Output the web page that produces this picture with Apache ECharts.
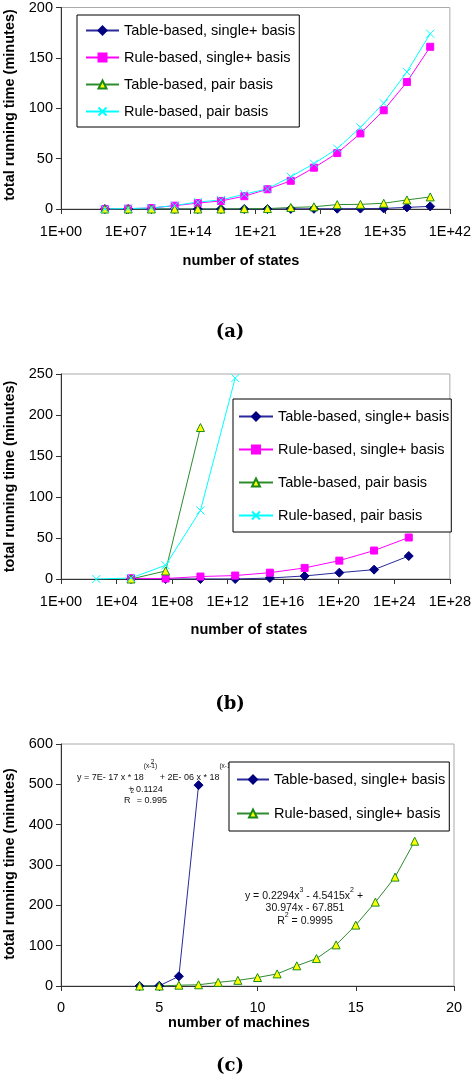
<!DOCTYPE html>
<html><head><meta charset="utf-8">
<script src="https://cdn.jsdelivr.net/npm/echarts@6/dist/echarts.min.js"></script>
<style>html,body{margin:0;padding:0;background:#fff}#c{width:474px;height:1080px}</style>
</head><body><div id="c"></div>
<script>
// ---------- data ----------
const seriesNames = ['Table-based, single+ basis', 'Rule-based, single+ basis', 'Table-based, pair basis', 'Rule-based, pair basis'];
// chart (a)
const statesA = [5.5e4, 1.8e7, 5.8e9, 1.9e12, 6.0e14, 1.9e17, 6.3e19, 2.0e22, 6.6e24, 2.1e27, 6.9e29, 2.2e32, 7.2e34, 2.3e37, 7.6e39];
const tableSingleA = [0, 0, 0, 0, 0, 0, 0, 0, 0.1, 0.2, 0.3, 0.4, 0.6, 1.6, 2.6];
const ruleSingleA = [0, 0.3, 1, 3.3, 5.9, 8, 12.7, 19.6, 28, 41, 55.5, 75, 98, 126, 161];
const tablePairA = [0, 0, 0, 0, 0, 0, 0.3, 0.4, 1.5, 2.2, 4.4, 4.6, 5.7, 9, 12];
const rulePairA = [0, 0.5, 1, 3.5, 6.9, 9, 14.7, 20, 32, 45, 60, 81, 105, 136, 174];
// chart (b)
const statesB = [3.5e2, 1.1e5, 3.4e7, 1.1e10, 3.5e12, 1.1e15, 3.5e17, 1.1e20, 3.5e22, 1.1e25];
const tableSingleB = [null, 0, 0, 0, 0, 1.2, 3.7, 7.7, 11.4, 28];
const ruleSingleB = [null, 0.8, 0.6, 3.0, 4.2, 7.7, 13.5, 22.4, 34.7, 50.6];
const tablePairB = [null, 0, 9.8, 184.7, null, null, null, null, null, null];
const rulePairB = [0, 1.2, 16.7, 83.6, 245, null, null, null, null, null];
// chart (c)
const machinesTable = [4, 5, 6, 7];
const tableSingleC = [0, 0.5, 24, 498];
const machinesRule = [4, 5, 6, 7, 8, 9, 10, 11, 12, 13, 14, 15, 16, 17, 18];
const ruleSingleC = [0, 0, 2, 3, 9, 14, 21, 30, 50, 68, 102, 151, 208, 270, 359];
// axis ticks
const yTicksA = [0, 200, 50];
const yTicksB = [0, 250, 50];
const yTicksC = [0, 600, 100];
const xTicksC = [0, 20, 5];
const logTicksA = [0, 42, 7];
const logTicksB = [0, 28, 4];

// ---------- helpers ----------
const FONT = "'Liberation Sans', Arial, Helvetica, sans-serif";
const FS = 14.5;
const mctx = document.createElement('canvas').getContext('2d');
function tw(t, size) { mctx.font = size + 'px ' + FONT; return mctx.measureText(t).width; }
function expLabel(v) { const e = Math.round(Math.log10(v)); return '1E+' + (e < 10 ? '0' : '') + e; }
function pairs(xs, ys) { return xs.map((x, i) => [x, ys[i]]).filter(p => p[1] !== null && p[1] !== undefined); }

const styles = {
  tableSingle: { symbol: 'diamond', symbolSize: 9, itemStyle: { color: '#000080', borderColor: '#000080', borderWidth: 1 }, lineStyle: { color: '#2a2a9a', width: 1 } },
  ruleSingle: { symbol: 'rect', symbolSize: 7, itemStyle: { color: '#FF00FF', borderColor: '#FF00FF', borderWidth: 1 }, lineStyle: { color: '#FF00FF', width: 1 } },
  tri: { symbol: 'triangle', symbolSize: 8, itemStyle: { color: '#FFFF00', borderColor: '#1a8a1a', borderWidth: 1 }, lineStyle: { color: '#2e8b2e', width: 1 } },
  cross: { symbol: 'path://M0,0L10,10M10,0L0,10', symbolSize: 8, itemStyle: { color: '#00FFFF', borderColor: '#00FFFF', borderWidth: 1 }, lineStyle: { color: '#00FFFF', width: 1 } }
};
function mk(name, tag, idx, data, st) {
  return Object.assign({ type: 'line', name: name + '|' + tag, xAxisIndex: idx, yAxisIndex: idx, data: data, showAllSymbol: true, z: 3 }, JSON.parse(JSON.stringify(st)));
}

function xLogAxis(idx, t) {
  return { gridIndex: idx, type: 'log', logBase: 10, min: Math.pow(10, t[0]), max: Math.pow(10, t[1]), interval: t[2],
    axisLine: { show: true, lineStyle: { color: '#333', width: 1 } },
    axisTick: { show: true, length: 5, lineStyle: { color: '#333' } },
    minorTick: { show: false }, splitLine: { show: false },
    axisLabel: { formatter: expLabel, fontSize: FS, fontFamily: FONT, color: '#000', margin: 15, showMinLabel: true, showMaxLabel: true } };
}
function valAxis(idx, t, margin, isX) {
  return { gridIndex: idx, type: 'value', min: t[0], max: t[1], interval: t[2],
    axisLine: { show: true, onZero: false, lineStyle: { color: '#333', width: 1 } },
    axisTick: { show: true, length: 5, lineStyle: { color: '#333' } },
    splitLine: { show: false },
    axisLabel: { fontSize: FS, fontFamily: FONT, color: '#000', margin: margin, showMinLabel: true, showMaxLabel: true } };
}
function legend(tag, names, left, top, pad, iw, gap) {
  return { orient: 'vertical', left: left, top: top, padding: pad, itemWidth: iw, itemHeight: 10, itemGap: gap,
    data: names.map(n => n + '|' + tag), formatter: n => n.split('|')[0], selectedMode: false,
    textStyle: { fontSize: FS, fontFamily: FONT, color: '#000', lineHeight: 14 },
    borderColor: '#000', borderWidth: 1, backgroundColor: '#fff', z: 10 };
}

// ---------- graphic texts ----------
const graphics = [];
function txt(t, x, y, o) {
  graphics.push(Object.assign({ type: 'text', x: x, y: y, z: 1,
    style: Object.assign({ text: t, font: (o && o.font) || ('bold ' + FS + 'px ' + FONT), fill: '#000', align: 'center', verticalAlign: 'middle' }, (o && o.style) || {}) },
    o && o.rotation ? { rotation: o.rotation } : {}));
}
function yTitle(cy) { txt('total running time (minutes)', 9.5, cy, { rotation: Math.PI / 2 }); }
yTitle(105); yTitle(476.5); yTitle(864);
txt('number of states', 241, 261);
txt('number of states', 249, 630);
txt('number of machines', 239, 1023);
const capFont = "bold 18px 'DejaVu Serif', serif";
txt('(a)', 230, 332, { font: capFont });
txt('(b)', 230, 704, { font: capFont });
txt('(c)', 230, 1066, { font: capFont });

// rich line: pieces [text, dy, size, advance(bool), dx]
function richLine(pieces, x0, cy, center) {
  let total = 0;
  pieces.forEach(p => { if (p[3] !== false) total += tw(p[0], p[2]) + (p[4] || 0); });
  let x = center ? x0 - total / 2 : x0;
  pieces.forEach(p => {
    const w = tw(p[0], p[2]);
    graphics.push({ type: 'text', x: x + (p[4] || 0), y: cy + p[1], z: 1,
      style: { text: p[0], font: p[2] + 'px ' + FONT, fill: '#111', align: 'left', verticalAlign: 'middle' } });
    if (p[3] !== false) x += w + (p[4] || 0);
  });
}
// trendline label for table-based series
const s1 = 9, s1s = 6.5;
richLine([['y = 7E- 17 x * 18', 0, s1], ['(x-1)', -11, s1s], ['2', -15.5, s1s, false, -6.5], [' + 2E- 06 x * 18', 0, s1], ['(x-1)', -11, s1s]], 77, 777.5, false);
richLine([['+ 0.1124', 0, s1]], 145.5, 790, true);
richLine([['R', 0, s1], ['2', -10, s1s], [' = 0.995', 0, s1]], 145.5, 801, true);
// trendline label for rule-based series
const s2 = 10.5, s2s = 7;
richLine([['y = 0.2294x', 0, s2], ['3', -6, s2s], [' - 4.5415x', 0, s2], ['2', -6, s2s], [' +', 0, s2]], 304, 896, true);
richLine([['30.974x - 67.851', 0, s2]], 305, 908, true);
richLine([['R', 0, s2], ['2', -5.5, s2s], [' = 0.9995', 0, s2]], 305, 921, true);

// ---------- chart ----------
const chart = echarts.init(document.getElementById('c'), null, { renderer: 'canvas' });
const gridBase = { show: true, borderColor: '#aaa', borderWidth: 1, backgroundColor: 'transparent', containLabel: false };
chart.setOption({
  animation: false,
  textStyle: { fontFamily: FONT },
  grid: [
    Object.assign({ left: 61, top: 5, width: 393, height: 204 }, gridBase),
    Object.assign({ left: 61, top: 374, width: 393, height: 205 }, gridBase),
    Object.assign({ left: 61, top: 744, width: 393, height: 242 }, gridBase)
  ],
  xAxis: [xLogAxis(0, logTicksA), xLogAxis(1, logTicksB), valAxis(2, xTicksC, 14, true)],
  yAxis: [valAxis(0, yTicksA, 8), valAxis(1, yTicksB, 8), valAxis(2, yTicksC, 8)],
  legend: [
    legend('a', seriesNames, 77, 15, [8, 4, 8, 8], 33, 12),
    legend('b', seriesNames, 233, 399, [10, 2, 9, 5], 34, 18),
    legend('c', seriesNames.slice(0, 2), 229, 762, [10, 4, 10, 7], 32, 19)
  ],
  series: [
    mk(seriesNames[0], 'a', 0, pairs(statesA, tableSingleA), styles.tableSingle),
    mk(seriesNames[1], 'a', 0, pairs(statesA, ruleSingleA), styles.ruleSingle),
    mk(seriesNames[2], 'a', 0, pairs(statesA, tablePairA), styles.tri),
    mk(seriesNames[3], 'a', 0, pairs(statesA, rulePairA), styles.cross),
    mk(seriesNames[0], 'b', 1, pairs(statesB, tableSingleB), styles.tableSingle),
    mk(seriesNames[1], 'b', 1, pairs(statesB, ruleSingleB), styles.ruleSingle),
    mk(seriesNames[2], 'b', 1, pairs(statesB, tablePairB), styles.tri),
    mk(seriesNames[3], 'b', 1, pairs(statesB, rulePairB), styles.cross),
    mk(seriesNames[0], 'c', 2, pairs(machinesTable, tableSingleC), styles.tableSingle),
    mk(seriesNames[1], 'c', 2, pairs(machinesRule, ruleSingleC), styles.tri)
  ],
  graphic: graphics
});
</script></body></html>
